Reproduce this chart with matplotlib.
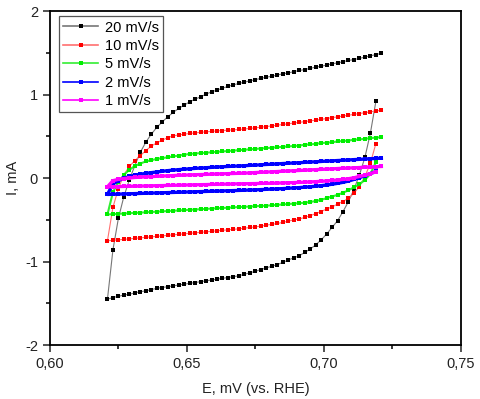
import matplotlib.pyplot as plt
from matplotlib.ticker import FuncFormatter, MultipleLocator

plt.rcParams['font.family'] = ['Liberation Sans', 'DejaVu Sans']

# potencial (V vs RHE): ramo catodico (descendo) e anodico (subindo)
E_down = [0.719, 0.717, 0.715, 0.713, 0.711, 0.709, 0.707, 0.705, 0.703, 0.701,
          0.699, 0.697, 0.695, 0.693, 0.691, 0.689, 0.687, 0.685, 0.683, 0.681,
          0.679, 0.677, 0.675, 0.673, 0.671, 0.669, 0.667, 0.665, 0.663, 0.661,
          0.659, 0.657, 0.655, 0.653, 0.651, 0.649, 0.647, 0.645, 0.643, 0.641,
          0.639, 0.637, 0.635, 0.633, 0.631, 0.629, 0.627, 0.625, 0.623, 0.621]
E_up = [0.623, 0.625, 0.627, 0.629, 0.631, 0.633, 0.635, 0.637, 0.639, 0.641,
        0.643, 0.645, 0.647, 0.649, 0.651, 0.653, 0.655, 0.657, 0.659, 0.661,
        0.663, 0.665, 0.667, 0.669, 0.671, 0.673, 0.675, 0.677, 0.679, 0.681,
        0.683, 0.685, 0.687, 0.689, 0.691, 0.693, 0.695, 0.697, 0.699, 0.701,
        0.703, 0.705, 0.707, 0.709, 0.711, 0.713, 0.715, 0.717, 0.719, 0.721]

# corrente (mA)
I20_down = [0.92, 0.54, 0.25, 0.04, -0.135, -0.28, -0.40, -0.51, -0.59, -0.67,
            -0.74, -0.80, -0.85, -0.89, -0.93, -0.955, -0.98, -1.01, -1.035, -1.055,
            -1.075, -1.095, -1.115, -1.135, -1.15, -1.17, -1.18, -1.19, -1.20, -1.21,
            -1.22, -1.23, -1.24, -1.25, -1.26, -1.27, -1.28, -1.29, -1.30, -1.31,
            -1.32, -1.335, -1.35, -1.36, -1.375, -1.39, -1.40, -1.415, -1.43, -1.45]
I20_up = [-0.86, -0.48, -0.22, -0.02, 0.15, 0.31, 0.43, 0.527, 0.607, 0.674,
          0.734, 0.787, 0.835, 0.874, 0.914, 0.946, 0.974, 1.006, 1.034, 1.054,
          1.078, 1.098, 1.118, 1.134, 1.15, 1.165, 1.18, 1.195, 1.21, 1.22,
          1.235, 1.25, 1.26, 1.275, 1.29, 1.30, 1.315, 1.33, 1.34, 1.355,
          1.37, 1.38, 1.395, 1.41, 1.42, 1.435, 1.45, 1.465, 1.48, 1.495]

I10_down = [0.415, 0.18, 0.02, -0.10, -0.18, -0.24, -0.28, -0.31, -0.345, -0.37,
            -0.40, -0.425, -0.45, -0.47, -0.49, -0.50, -0.515, -0.53, -0.543, -0.553,
            -0.563, -0.575, -0.583, -0.591, -0.599, -0.607, -0.613, -0.619, -0.625, -0.631,
            -0.637, -0.643, -0.649, -0.655, -0.661, -0.667, -0.673, -0.679, -0.685, -0.691,
            -0.697, -0.703, -0.709, -0.715, -0.721, -0.727, -0.733, -0.739, -0.745, -0.75]
I10_up = [-0.35, -0.125, 0.04, 0.14, 0.21, 0.27, 0.33, 0.383, 0.423, 0.455,
          0.485, 0.507, 0.517, 0.527, 0.535, 0.542, 0.549, 0.555, 0.56, 0.566,
          0.570, 0.575, 0.579, 0.583, 0.589, 0.596, 0.603, 0.61, 0.618, 0.626,
          0.634, 0.643, 0.651, 0.66, 0.668, 0.677, 0.686, 0.695, 0.704, 0.714,
          0.724, 0.734, 0.744, 0.754, 0.764, 0.774, 0.784, 0.794, 0.804, 0.814]

I5_down = [0.19, 0.05, -0.02, -0.075, -0.11, -0.145, -0.175, -0.20, -0.22, -0.24,
           -0.26, -0.275, -0.285, -0.295, -0.30, -0.305, -0.31, -0.315, -0.32, -0.325,
           -0.33, -0.333, -0.336, -0.34, -0.343, -0.346, -0.35, -0.354, -0.357, -0.361,
           -0.365, -0.368, -0.372, -0.376, -0.379, -0.383, -0.387, -0.39, -0.394, -0.398,
           -0.402, -0.405, -0.409, -0.413, -0.416, -0.42, -0.424, -0.427, -0.431, -0.435]
I5_up = [-0.17, -0.05, 0.04, 0.10, 0.145, 0.175, 0.20, 0.215, 0.23, 0.24,
         0.25, 0.26, 0.27, 0.28, 0.29, 0.295, 0.30, 0.305, 0.31, 0.315,
         0.32, 0.325, 0.33, 0.335, 0.34, 0.345, 0.35, 0.355, 0.36, 0.365,
         0.37, 0.375, 0.38, 0.385, 0.39, 0.40, 0.405, 0.41, 0.42, 0.425,
         0.43, 0.44, 0.445, 0.45, 0.46, 0.465, 0.47, 0.48, 0.485, 0.49]

I2_down = [0.08, 0.055, 0.03, 0.005, -0.015, -0.035, -0.05, -0.062, -0.073, -0.082,
           -0.09, -0.097, -0.103, -0.108, -0.113, -0.117, -0.121, -0.125, -0.128, -0.131,
           -0.134, -0.137, -0.14, -0.142, -0.145, -0.147, -0.149, -0.151, -0.153, -0.155,
           -0.157, -0.159, -0.161, -0.163, -0.165, -0.167, -0.169, -0.171, -0.173, -0.175,
           -0.177, -0.179, -0.181, -0.183, -0.185, -0.187, -0.189, -0.191, -0.193, -0.195]
I2_up = [-0.07, -0.03, 0.0, 0.02, 0.035, 0.047, 0.057, 0.066, 0.074, 0.082,
         0.09, 0.096, 0.102, 0.107, 0.112, 0.117, 0.121, 0.125, 0.129, 0.133,
         0.137, 0.14, 0.143, 0.146, 0.149, 0.153, 0.156, 0.16, 0.164, 0.167,
         0.171, 0.175, 0.178, 0.182, 0.185, 0.189, 0.193, 0.196, 0.2, 0.204,
         0.207, 0.211, 0.214, 0.218, 0.222, 0.225, 0.229, 0.233, 0.236, 0.24]

I1_down = [0.075, 0.055, 0.035, 0.02, 0.005, -0.007, -0.015, -0.022, -0.028, -0.033,
           -0.038, -0.042, -0.045, -0.048, -0.051, -0.053, -0.055, -0.057, -0.059, -0.061,
           -0.062, -0.063, -0.065, -0.066, -0.067, -0.068, -0.069, -0.071, -0.072, -0.074,
           -0.075, -0.077, -0.078, -0.08, -0.081, -0.083, -0.084, -0.086, -0.087, -0.089,
           -0.09, -0.092, -0.093, -0.095, -0.096, -0.098, -0.099, -0.101, -0.102, -0.104]
I1_up = [-0.03, -0.015, -0.005, 0.002, 0.008, 0.012, 0.016, 0.019, 0.022, 0.025,
         0.028, 0.031, 0.034, 0.036, 0.039, 0.041, 0.043, 0.045, 0.048, 0.05,
         0.052, 0.054, 0.056, 0.058, 0.06, 0.063, 0.067, 0.07, 0.073, 0.076,
         0.079, 0.083, 0.086, 0.089, 0.092, 0.095, 0.099, 0.102, 0.105, 0.108,
         0.111, 0.115, 0.118, 0.121, 0.124, 0.127, 0.131, 0.134, 0.137, 0.14]

labels = ['20 mV/s', '10 mV/s', '5 mV/s', '2 mV/s', '1 mV/s']
cores = ['#000000', '#ff0000', '#00ee00', '#0000ff', '#ff00ff']
cores_linha = ['#777777', '#ff7070', '#33ee33', '#0000ff', '#ff00ff']
series = [(I20_down, I20_up), (I10_down, I10_up), (I5_down, I5_up),
          (I2_down, I2_up), (I1_down, I1_up)]
larguras = [0.8, 0.8, 1.5, 2.4, 2.4]

fig = plt.figure(figsize=(4.8, 3.99), dpi=100)
ax = fig.add_axes([0.104, 0.135, 0.856, 0.837])

E = E_down + E_up
for (i_down, i_up), lab, c, cl, lw in zip(series, labels, cores, cores_linha, larguras):
    ax.plot(E, i_down + i_up, color=cl, lw=lw, marker='s', ms=2.4, mew=0,
            mfc=c, label=lab)

ax.set_xlim(0.60, 0.75)
ax.set_ylim(-2, 2)
ax.xaxis.set_major_locator(MultipleLocator(0.05))
ax.xaxis.set_minor_locator(MultipleLocator(0.025))
ax.yaxis.set_major_locator(MultipleLocator(1))
ax.yaxis.set_minor_locator(MultipleLocator(0.5))
ax.xaxis.set_major_formatter(FuncFormatter(lambda v, p: f'{v:.2f}'.replace('.', ',')))
ax.yaxis.set_major_formatter(FuncFormatter(lambda v, p: f'{v:.0f}'))

ax.tick_params(which='major', direction='out', length=5, width=1.1, labelsize=10.5, colors='#222222')
ax.tick_params(which='minor', direction='out', length=3, width=1.1)
for s in ax.spines.values():
    s.set_linewidth(1.3)

ax.set_xlabel('E, mV (vs. RHE)', fontsize=10.5, labelpad=8, color='#222222')
ax.set_ylabel('I, mA', fontsize=10.5, labelpad=4, color='#222222')

leg = ax.legend(loc='upper left', bbox_to_anchor=(0.022, 0.985), borderaxespad=0,
                fontsize=10.5, numpoints=1, handlelength=2.4, fancybox=False,
                framealpha=1, edgecolor='#555555', borderpad=0.3, labelspacing=0.3,
                handletextpad=0.45, markerscale=1.3)
leg.get_frame().set_linewidth(0.9)
for h in leg.get_lines():
    h.set_linewidth(1.2)

plt.savefig('out.png', dpi=100)
